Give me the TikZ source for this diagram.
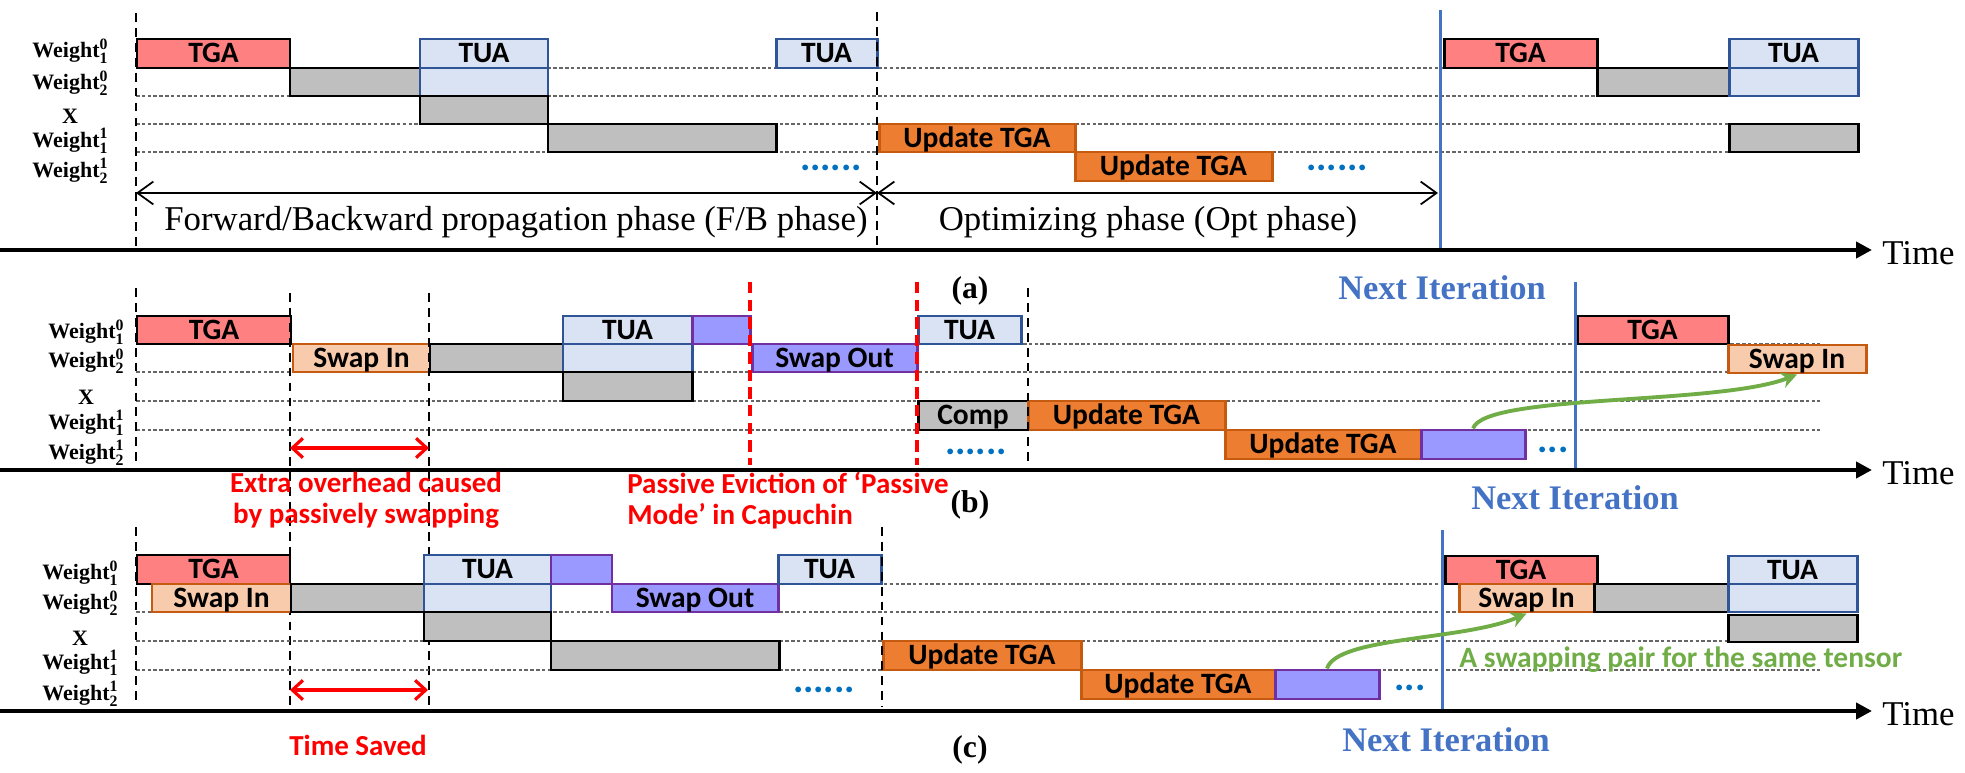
\documentclass[tikz,border=0pt]{standalone}
\usepackage{fontspec}
\setmainfont{Liberation Serif}
\newfontfamily\calib{Carlito}
\usetikzlibrary{fit,arrows.meta}

\definecolor{tgaRed}{HTML}{FF8080}
\definecolor{tuaFill}{HTML}{DAE3F3}
\definecolor{tuaEdge}{HTML}{2F5597}
\definecolor{compGray}{HTML}{BFBFBF}
\definecolor{updFill}{HTML}{ED7D31}
\definecolor{orangeEdge}{HTML}{C55A11}
\definecolor{swinFill}{HTML}{F8CBAD}
\definecolor{swoutFill}{HTML}{9999FF}
\definecolor{swoutEdge}{HTML}{7030A0}
\definecolor{iterBlue}{HTML}{4472C4}
\definecolor{dotBlue}{HTML}{0070C0}
\definecolor{pairGreen}{HTML}{70AD47}

\newcommand{\wgt}[2]{Weight\rlap{\raisebox{-0.26em}{\fontsize{9}{9}\selectfont #1}}\raisebox{0.4em}{\fontsize{9}{9}\selectfont #2}}

\tikzset{
  slotTxt/.style={inner sep=0pt, text height=10.8pt, text depth=0pt,
    font=\calib\bfseries\fontsize{16.8}{18}\selectfont},
  slot/.style={draw=black, line width=1.7pt, inner sep=0pt, label={[slotTxt]center:#1}},
  slot/.default={},
  tga/.style={slot={#1}, fill=tgaRed}, tga/.default={},
  tua/.style={slot={#1}, draw=tuaEdge, fill=tuaFill}, tua/.default={},
  comp/.style={slot={#1}, fill=compGray}, comp/.default={},
  upd/.style={slot={#1}, draw=orangeEdge, fill=updFill}, upd/.default={},
  swin/.style={slot={#1}, draw=orangeEdge, fill=swinFill}, swin/.default={},
  swout/.style={slot={#1}, draw=swoutEdge, fill=swoutFill}, swout/.default={},
  rowLbl/.style={inner sep=0pt, font=\bfseries\fontsize{12.5}{13}\selectfont},
  rowLine/.style={draw=black!60, line width=0.6pt, dash pattern=on 2pt off 1.3pt},
  phaseLine/.style={draw=black, line width=1.3pt, dash pattern=on 5pt off 3.5pt},
  evictLine/.style={draw=red, line width=1.8pt, dash pattern=on 6.5pt off 3.5pt},
  iterLine/.style={draw=iterBlue, line width=1.7pt},
  timeAxis/.style={draw=black, line width=2.3pt, -{Triangle[length=9pt,width=9pt]}},
  fbSpan/.style={draw=black, line width=1pt, {Straight Barb[length=9pt,width=13pt]}-{Straight Barb[length=9pt,width=13pt]}},
  savedSpan/.style={draw=red, line width=1.8pt, {Straight Barb[length=6pt,width=11pt]}-{Straight Barb[length=6pt,width=11pt]}},
  pairArrow/.style={draw=pairGreen, line width=2.2pt, -{Stealth[length=9pt,width=9pt]}},
  redNote/.style={text=red, inner sep=0pt, font=\calib\bfseries\fontsize{16.5}{17.5}\selectfont},
  greenNote/.style={text=pairGreen, inner sep=0pt, font=\calib\bfseries\fontsize{16.8}{18}\selectfont},
  blueDots/.style={text=dotBlue, inner sep=0pt, font=\calib\bfseries\fontsize{22}{22}\selectfont},
  phaseTxt/.style={inner sep=0pt, font=\fontsize{19.8}{22}\selectfont},
  iterTxt/.style={text=iterBlue, inner sep=0pt, font=\bfseries\fontsize{19.6}{22}\selectfont},
  panelTag/.style={inner sep=0pt, font=\bfseries\fontsize{18}{20}\selectfont},
}

\begin{document}
\begin{tikzpicture}[x=0.02cm, y=-0.02cm]
	\useasboundingbox (0,0) rectangle (1965,773);
	
	% (a)
	\draw[rowLine] (136,68) -- (1820,68);
	\draw[rowLine] (136,96) -- (1820,96);
	\draw[rowLine] (136,124) -- (1820,124);
	\draw[rowLine] (136,152) -- (1820,152);
	
	\node[rowLbl] (aw10) at (70,51) {\wgt{1}{0}};
	\node[rowLbl] (aw20) at (70,83) {\wgt{2}{0}};
	\node[rowLbl] (ax) at (70,116) {X};
	\node[rowLbl] (aw11) at (70,141) {\wgt{1}{1}};
	\node[rowLbl] (aw21) at (70,171) {\wgt{2}{1}};
	
	\node[tga=TGA, fit={(137,39) (290,68)}] (atga) {};
	\node[comp, fit={(290,68) (420,96)}] (ac1) {};
	\node[tua=TUA, fit={(420,39) (548,68)}] (atua) {};
	\node[tua, fit={(420,68) (548,96)}] (atuab) {};
	\node[comp, fit={(420,96) (548,124)}] (ac2) {};
	\node[comp, fit={(548,124) (776,152)}] (ac3) {};
	\node[tua=TUA, fit={(776,39) (877,68)}] (atua2) {};
	\node[upd=Update TGA, fit={(879,124) (1075,152)}] (aupd1) {};
	\node[upd=Update TGA, fit={(1075,152) (1272,181)}] (aupd2) {};
	\node[tga=TGA, fit={(1444,39) (1597,68)}] (atga2) {};
	\node[comp, fit={(1597,68) (1729,96)}] (ac4) {};
	\node[tua=TUA, fit={(1729,39) (1858,68)}] (atua3) {};
	\node[tua, fit={(1729,68) (1858,96)}] (atua3b) {};
	\node[comp, fit={(1729,124) (1858,152)}] (ac5) {};
	
	\node[blueDots] (adots1) at (831,168) {......};
	\node[blueDots] (adots2) at (1337,168) {......};
	
	\draw[phaseLine] (136,13) -- (136,250);
	\draw[phaseLine] (877,12) -- (877,250);
	\draw[iterLine] (1440,10) -- (1440,251);
	
	\coordinate (fbL) at (136,193);
	\coordinate (fbM) at (877,193);
	\coordinate (fbR) at (1438,193);
	\draw[fbSpan] (fbL) -- (fbM);
	\draw[fbSpan] (fbM) -- (fbR);
	\node[phaseTxt] (fbTxt) at (516,222) {Forward/Backward propagation phase (F/B phase)};
	\node[phaseTxt] (optTxt) at (1148,222) {Optimizing phase (Opt phase)};
	
	\draw[timeAxis] (0,250) -- (1872,250);
	\node[phaseTxt, anchor=west] (atime) at (1882,253) {Time};
	\node[panelTag] (atag) at (970,291) {(a)};
	\node[iterTxt] (aiter) at (1442,288) {Next Iteration};
	
	% (b)
	\draw[rowLine] (136,344) -- (1820,344);
	\draw[rowLine] (136,372) -- (1820,372);
	\draw[rowLine] (136,401) -- (1820,401);
	\draw[rowLine] (136,430) -- (1820,430);
	
	\node[rowLbl] (bw10) at (86,332) {\wgt{1}{0}};
	\node[rowLbl] (bw20) at (86,361) {\wgt{2}{0}};
	\node[rowLbl] (bx) at (86,397) {X};
	\node[rowLbl] (bw11) at (86,423) {\wgt{1}{1}};
	\node[rowLbl] (bw21) at (86,453) {\wgt{2}{1}};
	
	\node[tga=TGA, fit={(137,316) (291,344)}] (btga) {};
	\node[swin=Swap In, fit={(293,344) (430,372)}] (bsin) {};
	\node[comp, fit={(430,344) (563,372)}] (bc1) {};
	\node[tua=TUA, fit={(563,316) (692,344)}] (btua) {};
	\node[tua, fit={(563,344) (692,372)}] (btuab) {};
	\node[swout, fit={(692,316) (750,344)}] (bp1) {};
	\node[comp, fit={(563,372) (692,401)}] (bc2) {};
	\node[swout=Swap Out, fit={(752,344) (917,372)}] (bsout) {};
	\node[tua=TUA, fit={(918,316) (1021,344)}] (btua2) {};
	\node[comp=Comp, fit={(918,401) (1028,430)}] (bcomp) {};
	\node[upd=Update TGA, fit={(1028,401) (1225,430)}] (bupd1) {};
	\node[upd=Update TGA, fit={(1225,430) (1421,459)}] (bupd2) {};
	\node[swout, fit={(1421,430) (1525,459)}] (bp2) {};
	\node[tga=TGA, fit={(1577,316) (1728,344)}] (btga2) {};
	\node[swin=Swap In, fit={(1728,345) (1866,373)}] (bsin2) {};
	
	\node[blueDots] (bdots1) at (976,452) {......};
	\node[blueDots] (bdots2) at (1553,450) {...};
	
	\draw[phaseLine] (136,288) -- (136,462);
	\draw[phaseLine] (290,293) -- (290,706);
	\draw[phaseLine] (429,293) -- (429,706);
	\draw[evictLine] (750,282) -- (750,465);
	\draw[evictLine] (917,282) -- (917,465);
	\draw[phaseLine] (1028,288) -- (1028,467);
	\draw[iterLine] (1575,282) -- (1575,470);
	
	\coordinate (exL) at (290,448);
	\coordinate (exR) at (429,448);
	\draw[savedSpan] (exL) -- (exR);
	\draw[pairArrow] (bp2.north) .. controls +(12,-35) and +(-79,31) .. (bsin2.south);
	
	\draw[timeAxis] (0,470) -- (1872,470);
	\node[phaseTxt, anchor=west] (btime) at (1882,473) {Time};
	\node[redNote, align=center, anchor=north] (extraNote) at (366,472) {Extra overhead caused\\by passively swapping};
	\node[redNote, align=left, anchor=north west] (evictNote) at (627,472) {Passive Eviction of ‘Passive\\Mode’ in Capuchin};
	\node[panelTag] (btag) at (970,505) {(b)};
	\node[iterTxt] (biter) at (1575,498) {Next Iteration};
	
	% (c)
	\draw[rowLine] (136,584) -- (1820,584);
	\draw[rowLine] (136,612) -- (1820,612);
	\draw[rowLine] (136,641) -- (1820,641);
	\draw[rowLine] (136,670) -- (1820,670);
	
	\node[rowLbl] (cw10) at (80,573) {\wgt{1}{0}};
	\node[rowLbl] (cw20) at (80,603) {\wgt{2}{0}};
	\node[rowLbl] (cx) at (80,638) {X};
	\node[rowLbl] (cw11) at (80,663) {\wgt{1}{1}};
	\node[rowLbl] (cw21) at (80,694) {\wgt{2}{1}};
	
	\node[tga=TGA, fit={(137,555) (290,584)}] (ctga) {};
	\node[swin=Swap In, fit={(152,584) (291,612)}] (csin) {};
	\node[comp, fit={(291,584) (424,612)}] (cc1) {};
	\node[tua=TUA, fit={(424,555) (551,584)}] (ctua) {};
	\node[tua, fit={(424,584) (551,612)}] (ctuab) {};
	\node[swout, fit={(551,555) (612,584)}] (cp1) {};
	\node[swout=Swap Out, fit={(612,584) (778,612)}] (csout) {};
	\node[tua=TUA, fit={(778,555) (881,584)}] (ctua2) {};
	\node[comp, fit={(424,612) (551,641)}] (cc2) {};
	\node[comp, fit={(551,641) (779,670)}] (cc3) {};
	\node[upd=Update TGA, fit={(883,641) (1081,670)}] (cupd1) {};
	\node[upd=Update TGA, fit={(1081,670) (1275,699)}] (cupd2) {};
	\node[swout, fit={(1275,670) (1379,699)}] (cp2) {};
	\node[tga=TGA, fit={(1445,556) (1597,584)}] (ctga2) {};
	\node[swin=Swap In, fit={(1459,584) (1594,612)}] (csin2) {};
	\node[comp, fit={(1594,584) (1728,612)}] (cc4) {};
	\node[tua=TUA, fit={(1728,556) (1857,584)}] (ctua3) {};
	\node[tua, fit={(1728,584) (1857,612)}] (ctua3b) {};
	\node[comp, fit={(1728,615) (1857,642)}] (cc5) {};
	
	\node[blueDots] (cdots1) at (824,690) {......};
	\node[blueDots] (cdots2) at (1410,688) {...};
	
	\draw[phaseLine] (136,527) -- (136,702);
	\draw[phaseLine] (882,527) -- (882,707);
	\draw[iterLine] (1442,530) -- (1442,711);
	
	\coordinate (svL) at (290,690);
	\coordinate (svR) at (428,690);
	\draw[savedSpan] (svL) -- (svR);
	\draw[pairArrow] (cp2.north) .. controls +(10,-32) and +(-62,27) .. (csin2.south);
	\node[greenNote, anchor=west] (pairNote) at (1459,660) {A swapping pair for the same tensor};
	
	\draw[timeAxis] (0,711) -- (1872,711);
	\node[phaseTxt, anchor=west] (ctime) at (1882,714) {Time};
	\node[redNote] (savedNote) at (358,745) {Time Saved};
	\node[panelTag] (ctag) at (970,750) {(c)};
	\node[iterTxt] (citer) at (1446,740) {Next Iteration};
\end{tikzpicture}
\end{document}
